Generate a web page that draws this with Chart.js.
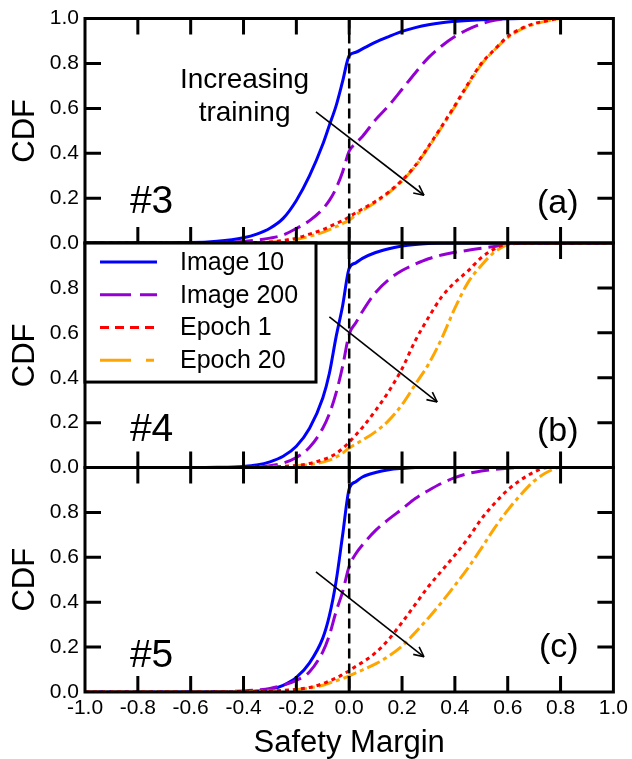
<!DOCTYPE html>
<html>
<head>
<meta charset="utf-8">
<script src="https://cdn.jsdelivr.net/npm/chart.js@4.4.1/dist/chart.umd.min.js"></script>
<style>
  html, body { margin: 0; padding: 0; background: #ffffff; }
  canvas { display: block; }
</style>
</head>
<body>
<canvas id="cdf" width="632" height="759"></canvas>
<script>
// ---- data -------------------------------------------------------------
const marginTicks = [-1.0, -0.8, -0.6, -0.4, -0.2, 0.0, 0.2, 0.4, 0.6, 0.8, 1.0];
const cdfTicks = [0.0, 0.2, 0.4, 0.6, 0.8, 1.0];
const seriesNames = ['Image 10', 'Image 200', 'Epoch 1', 'Epoch 20'];
const panelIds = ['#3', '#4', '#5'];
const panelTags = ['(a)', '(b)', '(c)'];

// safety margin sample points shared by every curve
const margins = [-1.0, -0.6, -0.5, -0.4, -0.35, -0.3, -0.25, -0.2, -0.15, -0.1, -0.075, -0.05, -0.025,
  0, 0.025, 0.05, 0.1, 0.15, 0.2, 0.25, 0.3, 0.35, 0.4, 0.45, 0.5, 0.55, 0.6, 0.65, 0.7, 0.75, 0.8, 1.0];

// panel #3
const cdf3Image10 = [0, 0.002, 0.008, 0.024, 0.04, 0.066, 0.11, 0.19, 0.30, 0.44, 0.525, 0.61, 0.72,
  0.835, 0.85, 0.865, 0.895, 0.92, 0.943, 0.96, 0.973, 0.982, 0.988, 0.992, 0.995, 0.997, 0.999, 1, 1, 1, 1, 1];
const cdf3Image200 = [0, 0, 0.002, 0.007, 0.013, 0.022, 0.036, 0.065, 0.10, 0.152, 0.19, 0.243, 0.317,
  0.41, 0.445, 0.475, 0.55, 0.613, 0.685, 0.758, 0.826, 0.878, 0.92, 0.952, 0.976, 0.992, 1, 1, 1, 1, 1, 1];
const cdf3Epoch1 = [0, 0, 0, 0.001, 0.002, 0.005, 0.012, 0.022, 0.04, 0.06, 0.073, 0.087, 0.10,
  0.117, 0.135, 0.152, 0.186, 0.228, 0.28, 0.345, 0.43, 0.52, 0.613, 0.71, 0.80, 0.862, 0.92, 0.955, 0.978, 0.99, 1, 1];
const cdf3Epoch20 = [0, 0, 0, 0.001, 0.002, 0.004, 0.009, 0.017, 0.03, 0.048, 0.06, 0.073, 0.087,
  0.102, 0.125, 0.145, 0.182, 0.224, 0.276, 0.342, 0.426, 0.516, 0.608, 0.705, 0.795, 0.86, 0.915, 0.952, 0.975, 0.99, 1, 1];

// panel #4
const cdf4Image10 = [0, 0, 0.001, 0.005, 0.011, 0.025, 0.05, 0.095, 0.175, 0.31, 0.42, 0.58, 0.72,
  0.888, 0.912, 0.932, 0.958, 0.975, 0.987, 0.994, 0.998, 1, 1, 1, 1, 1, 1, 1, 1, 1, 1, 1];
const cdf4Image200 = [0, 0, 0, 0.001, 0.003, 0.008, 0.02, 0.045, 0.09, 0.175, 0.24, 0.33, 0.45,
  0.595, 0.645, 0.695, 0.78, 0.838, 0.878, 0.906, 0.93, 0.947, 0.959, 0.968, 0.977, 0.985, 0.993, 1, 1, 1, 1, 1];
const cdf4Epoch1 = [0, 0, 0, 0, 0.001, 0.003, 0.005, 0.009, 0.018, 0.035, 0.046, 0.062, 0.085,
  0.113, 0.145, 0.178, 0.255, 0.34, 0.44, 0.565, 0.668, 0.76, 0.825, 0.876, 0.935, 0.974, 0.997, 1, 1, 1, 1, 1];
const cdf4Epoch20 = [0, 0, 0, 0, 0.001, 0.002, 0.004, 0.008, 0.013, 0.024, 0.033, 0.046, 0.065,
  0.087, 0.105, 0.122, 0.16, 0.21, 0.28, 0.37, 0.46, 0.575, 0.71, 0.825, 0.9, 0.96, 0.993, 1, 1, 1, 1, 1];

// panel #5
const cdf5Image10 = [0, 0, 0, 0.001, 0.004, 0.011, 0.03, 0.065, 0.13, 0.24, 0.34, 0.49, 0.698,
  0.905, 0.937, 0.958, 0.978, 0.99, 0.996, 1, 1, 1, 1, 1, 1, 1, 1, 1, 1, 1, 1, 1];
const cdf5Image200 = [0, 0, 0.001, 0.005, 0.009, 0.016, 0.03, 0.052, 0.09, 0.179, 0.253, 0.357, 0.446,
  0.56, 0.616, 0.655, 0.72, 0.77, 0.815, 0.862, 0.898, 0.93, 0.955, 0.973, 0.985, 0.992, 0.997, 1, 1, 1, 1, 1];
const cdf5Epoch1 = [0, 0, 0, 0.001, 0.002, 0.004, 0.007, 0.012, 0.02, 0.037, 0.049, 0.062, 0.078,
  0.095, 0.115, 0.132, 0.175, 0.235, 0.31, 0.39, 0.47, 0.54, 0.61, 0.685, 0.77, 0.84, 0.9, 0.945, 0.98, 1, 1, 1];
const cdf5Epoch20 = [0, 0, 0, 0.001, 0.002, 0.004, 0.006, 0.011, 0.018, 0.03, 0.04, 0.05, 0.06,
  0.072, 0.085, 0.098, 0.125, 0.16, 0.205, 0.265, 0.33, 0.4, 0.475, 0.553, 0.64, 0.73, 0.81, 0.88, 0.94, 0.98, 1, 1];

const panelSeries = [
  [cdf3Image10, cdf3Image200, cdf3Epoch1, cdf3Epoch20],
  [cdf4Image10, cdf4Image200, cdf4Epoch1, cdf4Epoch20],
  [cdf5Image10, cdf5Image200, cdf5Epoch1, cdf5Epoch20]
];

// "increasing training" arrows: [margin, cdf] start and end in each panel
const arrowStart = [[-0.126, 0.584], [-0.075, 0.671], [-0.126, 0.535]];
const arrowEnd = [[0.283, 0.213], [0.333, 0.292], [0.283, 0.157]];
const zeroMargin = 0;

// ---- styling ----------------------------------------------------------
const FONT = '"Liberation Sans", Arial, Helvetica, sans-serif';
const seriesStyle = [
  { color: '#0000ff', dash: [], legendDash: [], order: 3 },
  { color: '#9400d3', dash: [18, 7], legendDash: [31, 9], order: 2 },
  { color: '#ff0000', dash: [4, 4], legendDash: [9, 6], order: 0 },
  { color: '#ffa500', dash: [14, 4, 4, 4], legendDash: [31, 15, 8, 15], order: 1 }
];
const panelAxes = ['p3', 'p4', 'p5'];
const markLen = 16;

Chart.defaults.font.family = FONT;
Chart.defaults.color = '#000';

const datasets = [];
panelSeries.forEach((list, p) => {
  list.forEach((vals, s) => {
    const st = seriesStyle[s];
    datasets.push({
      label: seriesNames[s],
      data: margins.map((m, i) => ({ x: m, y: vals[i] })),
      yAxisID: panelAxes[p],
      borderColor: st.color,
      backgroundColor: st.color,
      borderDash: st.dash,
      borderWidth: 3,
      borderCapStyle: 'butt',
      pointRadius: 0,
      cubicInterpolationMode: 'monotone',
      fill: false,
      order: st.order
    });
  });
});

function yAxis(p) {
  return {
    type: 'linear',
    position: 'left',
    stack: 'panels',
    stackWeight: 1,
    weight: 3 - p,
    min: 0,
    max: 1,
    afterBuildTicks: s => { s.ticks = cdfTicks.map(v => ({ value: v })); },
    grid: { display: false, drawTicks: false },
    border: { display: false },
    ticks: {
      autoSkip: false,
      padding: 6,
      color: '#000',
      font: { size: 21 },
      callback: v => (p > 0 && v >= 1) ? '' : v.toFixed(1)
    },
    title: {
      display: true,
      text: 'CDF',
      color: '#000',
      font: { size: 31 },
      padding: { top: 7, bottom: 0 }
    },
    afterFit: s => { s.width = 85; }
  };
}

function segment(ctx, x1, y1, x2, y2) {
  ctx.beginPath();
  ctx.moveTo(x1, y1);
  ctx.lineTo(x2, y2);
  ctx.stroke();
}

// frame of one panel plus its inward tick marks, stroked as one path
function framePanel(ctx, xs, ys, area) {
  const top = ys.getPixelForValue(1);
  const bottom = ys.getPixelForValue(0);
  const left = area.left;
  const right = area.right;
  ctx.beginPath();
  ctx.rect(left, top, right - left, bottom - top);
  for (let i = 0; i < marginTicks.length; i++) {
    const px = xs.getPixelForValue(marginTicks[i]);
    ctx.moveTo(px, top);
    ctx.lineTo(px, top + markLen);
    ctx.moveTo(px, bottom);
    ctx.lineTo(px, bottom - markLen);
  }
  for (let i = 1; i < cdfTicks.length - 1; i++) {
    const py = ys.getPixelForValue(cdfTicks[i]);
    ctx.moveTo(left, py);
    ctx.lineTo(left + markLen, py);
    ctx.moveTo(right, py);
    ctx.lineTo(right - markLen, py);
  }
  ctx.stroke();
}

const panelDecor = {
  id: 'panelDecor',
  afterDraw(chart) {
    const ctx = chart.ctx;
    const xs = chart.scales.x;
    const area = chart.chartArea;
    ctx.save();
    ctx.strokeStyle = '#000';
    ctx.fillStyle = '#000';
    ctx.lineCap = 'butt';

    // dashed reference line at zero margin
    const x0 = xs.getPixelForValue(zeroMargin);
    ctx.lineWidth = 2.5;
    ctx.setLineDash([10, 5]);
    segment(ctx, x0, area.top, x0, area.bottom);
    ctx.setLineDash([]);

    panelAxes.forEach((id, p) => {
      const ys = chart.scales[id];
      ctx.strokeStyle = '#000';
      ctx.fillStyle = '#000';
      ctx.lineWidth = 3;
      framePanel(ctx, xs, ys, area);

      // arrow
      const ax1 = xs.getPixelForValue(arrowStart[p][0]);
      const ay1 = ys.getPixelForValue(arrowStart[p][1]);
      const ax2 = xs.getPixelForValue(arrowEnd[p][0]);
      const ay2 = ys.getPixelForValue(arrowEnd[p][1]);
      ctx.lineWidth = 1.6;
      segment(ctx, ax1, ay1, ax2, ay2);
      const ang = Math.atan2(ay2 - ay1, ax2 - ax1);
      const head = 11, spread = 0.45;
      segment(ctx, ax2, ay2, ax2 - head * Math.cos(ang - spread), ay2 - head * Math.sin(ang - spread));
      segment(ctx, ax2, ay2, ax2 - head * Math.cos(ang + spread), ay2 - head * Math.sin(ang + spread));

      // panel labels
      const idC = [0.133, 0.12, 0.111];
      const tagC = [0.133, 0.116, 0.156];
      ctx.textBaseline = 'alphabetic';
      ctx.font = '39px ' + FONT;
      ctx.textAlign = 'left';
      ctx.fillText(panelIds[p], xs.getPixelForValue(-0.83), ys.getPixelForValue(idC[p]));
      ctx.font = '34px ' + FONT;
      ctx.textAlign = 'right';
      ctx.fillText(panelTags[p], xs.getPixelForValue(0.868), ys.getPixelForValue(tagC[p]));
    });

    // annotation text in the top panel
    const y3 = chart.scales.p3;
    ctx.font = '28px ' + FONT;
    ctx.textAlign = 'center';
    ctx.fillText('Increasing', xs.getPixelForValue(-0.396), y3.getPixelForValue(0.692));
    ctx.fillText('training', xs.getPixelForValue(-0.396), y3.getPixelForValue(0.543));

    // legend box in the middle panel
    const y4 = chart.scales.p4;
    const lx = area.left, ly = y4.getPixelForValue(1), lw = 231, lh = 139;
    ctx.fillStyle = '#fff';
    ctx.fillRect(lx, ly, lw, lh);
    ctx.lineWidth = 3;
    ctx.strokeStyle = '#000';
    ctx.strokeRect(lx, ly, lw, lh);
    ctx.font = '25px ' + FONT;
    ctx.textAlign = 'left';
    ctx.textBaseline = 'middle';
    seriesNames.forEach((name, s) => {
      const st = seriesStyle[s];
      const ry = ly + 19 + s * 32.7;
      ctx.strokeStyle = st.color;
      ctx.lineWidth = 3;
      ctx.setLineDash(st.legendDash);
      segment(ctx, lx + 15, ry, lx + 72, ry);
      ctx.setLineDash([]);
      ctx.fillStyle = '#000';
      ctx.fillText(name, lx + 95, ry + 1);
    });
    ctx.restore();
  }
};

new Chart(document.getElementById('cdf'), {
  type: 'line',
  data: { datasets },
  options: {
    responsive: false,
    animation: false,
    events: [],
    layout: { padding: { top: 18, right: 17, left: 0, bottom: 0 } },
    plugins: { legend: { display: false }, tooltip: { enabled: false } },
    scales: {
      x: {
        type: 'linear',
        position: 'bottom',
        min: -1,
        max: 1,
        afterBuildTicks: s => { s.ticks = marginTicks.map(v => ({ value: v })); },
        grid: { display: false, drawTicks: false },
        border: { display: false },
        ticks: {
          autoSkip: false,
          maxRotation: 0,
          padding: 4,
          color: '#000',
          font: { size: 21 },
          callback: v => (Math.abs(v) < 1e-9 ? 0 : v).toFixed(1)
        },
        title: {
          display: true,
          text: 'Safety Margin',
          color: '#000',
          font: { size: 31, lineHeight: 1 },
          padding: { top: 0, bottom: 0 }
        },
        afterFit: s => { s.height = 67; }
      },
      p3: yAxis(0),
      p4: yAxis(1),
      p5: yAxis(2)
    }
  },
  plugins: [panelDecor]
});
</script>
</body>
</html>
